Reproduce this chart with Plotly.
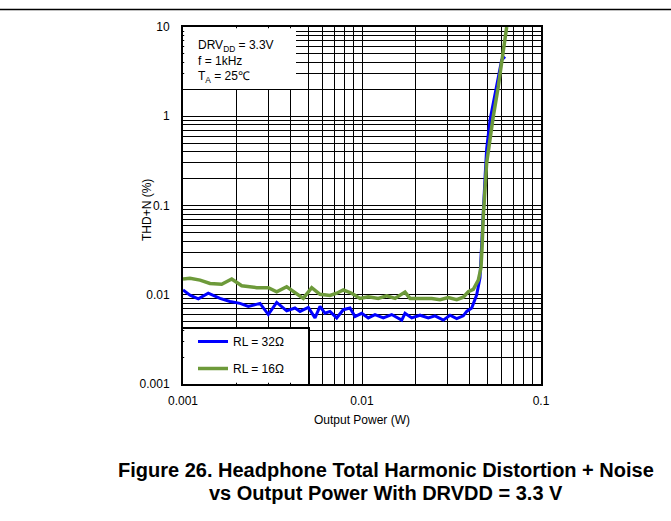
import plotly.graph_objects as go

# Data
blue_name = "RL = 32Ω"
blue_x = [0.001, 0.001094, 0.001218, 0.001384, 0.001609, 0.001830, 0.002082, 0.002317, 0.002693,
          0.002996, 0.003338, 0.003796, 0.004224, 0.004505, 0.005012, 0.005464, 0.005826, 0.006213,
          0.006626, 0.007223, 0.007862, 0.008570, 0.009139, 0.00996, 0.01084, 0.01182, 0.01315,
          0.01465, 0.01667, 0.01739, 0.01896, 0.02109, 0.02347, 0.02557, 0.02846, 0.03102, 0.03381,
          0.03680, 0.03845, 0.04101, 0.04373, 0.04562, 0.0487, 0.0497, 0.0519, 0.0553, 0.0577,
          0.0603, 0.0629]
blue_y = [0.0113, 0.0099, 0.0090, 0.0104, 0.0091, 0.0084, 0.0080, 0.0074, 0.0080, 0.0060, 0.0082,
          0.0066, 0.0071, 0.0065, 0.0072, 0.0055, 0.0074, 0.0062, 0.0065, 0.0055, 0.0068, 0.0071,
          0.0057, 0.0062, 0.0055, 0.0060, 0.0055, 0.0060, 0.0052, 0.0062, 0.0055, 0.0059, 0.0055,
          0.0058, 0.0052, 0.0059, 0.0054, 0.0058, 0.0065, 0.0071, 0.0100, 0.0155, 0.21, 0.43,
          0.91, 1.82, 2.77, 4.27, 4.65]

green_name = "RL = 16Ω"
green_x = [0.001, 0.001094, 0.001245, 0.001415, 0.001645, 0.001872, 0.002128, 0.002580, 0.002996,
           0.003338, 0.003796, 0.004699, 0.005236, 0.005826, 0.006626, 0.007223, 0.007862, 0.008759,
           0.009746, 0.01084, 0.01233, 0.01374, 0.01529, 0.01739, 0.01854, 0.02155, 0.02452,
           0.02729, 0.03035, 0.03381, 0.03680, 0.03926, 0.04187, 0.04465, 0.0462, 0.0468, 0.0476,
           0.0497, 0.0508, 0.0541, 0.0577, 0.0603, 0.0643]
green_y = [0.0150, 0.0153, 0.0146, 0.0134, 0.0131, 0.0150, 0.0126, 0.0120, 0.0120, 0.0108, 0.0123,
           0.0091, 0.0120, 0.0101, 0.0098, 0.0104, 0.0113, 0.0104, 0.0091, 0.0095, 0.0091, 0.0097,
           0.0091, 0.0107, 0.0091, 0.0090, 0.0091, 0.0088, 0.0093, 0.0088, 0.0094, 0.0108, 0.0115,
           0.0146, 0.020, 0.032, 0.075, 0.30, 0.42, 0.99, 2.14, 4.27, 10.0]

x_ticks = [0.001, 0.01, 0.1]
x_tick_labels = ["0.001", "0.01", "0.1"]
y_ticks = [0.001, 0.01, 0.1, 1, 10]
y_tick_labels = ["0.001", "0.01", "0.1", "1", "10"]

x_minor = [m * 10 ** e for e in (-3, -2) for m in range(2, 10)]
y_minor = [m * 10 ** e for e in (-3, -2, -1, 0) for m in range(2, 10)]

FONT = "Arial, Liberation Sans, sans-serif"
BLUE = "#0000ff"
GREEN = "#6d9a3a"

fig = go.Figure()
fig.add_trace(go.Scatter(x=blue_x, y=blue_y, mode="lines", name=blue_name, legendgroup="a",
                         line=dict(color=BLUE, width=3)))
fig.add_trace(go.Scatter(x=green_x, y=green_y, mode="lines", name=green_name, legendgroup="b",
                         line=dict(color=GREEN, width=3.5)))

axis_common = dict(
    type="log", showgrid=True, gridcolor="black", gridwidth=1.3,
    showline=True, linecolor="black", linewidth=2, mirror=True,
    zeroline=False, ticks="", tickfont=dict(family=FONT, size=12, color="black"),
)

fig.update_xaxes(range=[-3, -1], tickvals=x_ticks, ticktext=x_tick_labels,
                 minor=dict(tickvals=x_minor, showgrid=True, gridcolor="black", gridwidth=1),
                 ticklabelstandoff=5,
                 title=dict(text="Output Power (W)", font=dict(family=FONT, size=12, color="black"),
                            standoff=8),
                 **axis_common)
fig.update_yaxes(range=[-3, 1], tickvals=y_ticks, ticktext=y_tick_labels,
                 minor=dict(tickvals=y_minor, showgrid=True, gridcolor="black", gridwidth=1),
                 ticklabelstandoff=9,
                 **axis_common)

L, T, W, H = 183, 27, 358, 357
def px(xp):
    return (xp - L) / W
def py(yp):
    return (T + H - yp) / H

shapes = [
    # condition box (white)
    dict(type="rect", xref="paper", yref="paper", x0=px(184.2), x1=px(296), y0=py(89), y1=py(28.2),
         fillcolor="white", line=dict(width=0), layer="above"),
    # legend box fill
    dict(type="rect", xref="paper", yref="paper", x0=px(184.2), x1=px(309), y0=py(382.8), y1=py(328),
         fillcolor="white", line=dict(width=0), layer="above"),
    # legend box border (top and right)
    dict(type="line", xref="paper", yref="paper", x0=px(183), x1=px(310), y0=py(328), y1=py(328),
         line=dict(width=2, color="black"), layer="above"),
    dict(type="line", xref="paper", yref="paper", x0=px(309), x1=px(309), y0=py(328), y1=py(384),
         line=dict(width=2, color="black"), layer="above"),
    # top rule
    dict(type="line", xref="paper", yref="paper", x0=px(0), x1=px(671), y0=py(9.5), y1=py(9.5),
         line=dict(width=1.5, color="black")),
]

annotations = [
    dict(xref="paper", yref="paper", x=px(196), y=py(36), xanchor="left", yanchor="top",
         align="left", showarrow=False,
         text="DRV<sub>DD</sub> = 3.3V<br>f = 1kHz<br>T<sub>A</sub> = 25℃",
         font=dict(family=FONT, size=12, color="black")),
    dict(xref="paper", yref="paper", x=px(147), y=py(210), xanchor="center", yanchor="middle",
         textangle=-90, showarrow=False, text="THD+N (%)",
         font=dict(family=FONT, size=12, color="black")),
    dict(xref="paper", yref="paper", x=px(386), y=py(470), xanchor="center", yanchor="middle",
         showarrow=False, text="<b>Figure 26. Headphone Total Harmonic Distortion + Noise</b>",
         font=dict(family=FONT, size=20, color="black")),
    dict(xref="paper", yref="paper", x=px(386), y=py(493), xanchor="center", yanchor="middle",
         showarrow=False, text="<b>vs Output Power With DRVDD = 3.3 V</b>",
         font=dict(family=FONT, size=20, color="black")),
]

fig.update_layout(
    width=671, height=521,
    margin=dict(l=L, r=671 - L - W, t=T, b=521 - T - H),
    paper_bgcolor="white", plot_bgcolor="white",
    shapes=shapes, annotations=annotations,
    showlegend=True,
    legend=dict(x=px(193), y=py(327), xanchor="left", yanchor="top",
                bgcolor="rgba(0,0,0,0)", borderwidth=0, tracegroupgap=8,
                font=dict(family=FONT, size=12, color="black")),
    font=dict(family=FONT, color="black"),
)

fig.write_html("out.html", config={"displayModeBar": False},
               post_script="document.body.style.margin='0px';")
